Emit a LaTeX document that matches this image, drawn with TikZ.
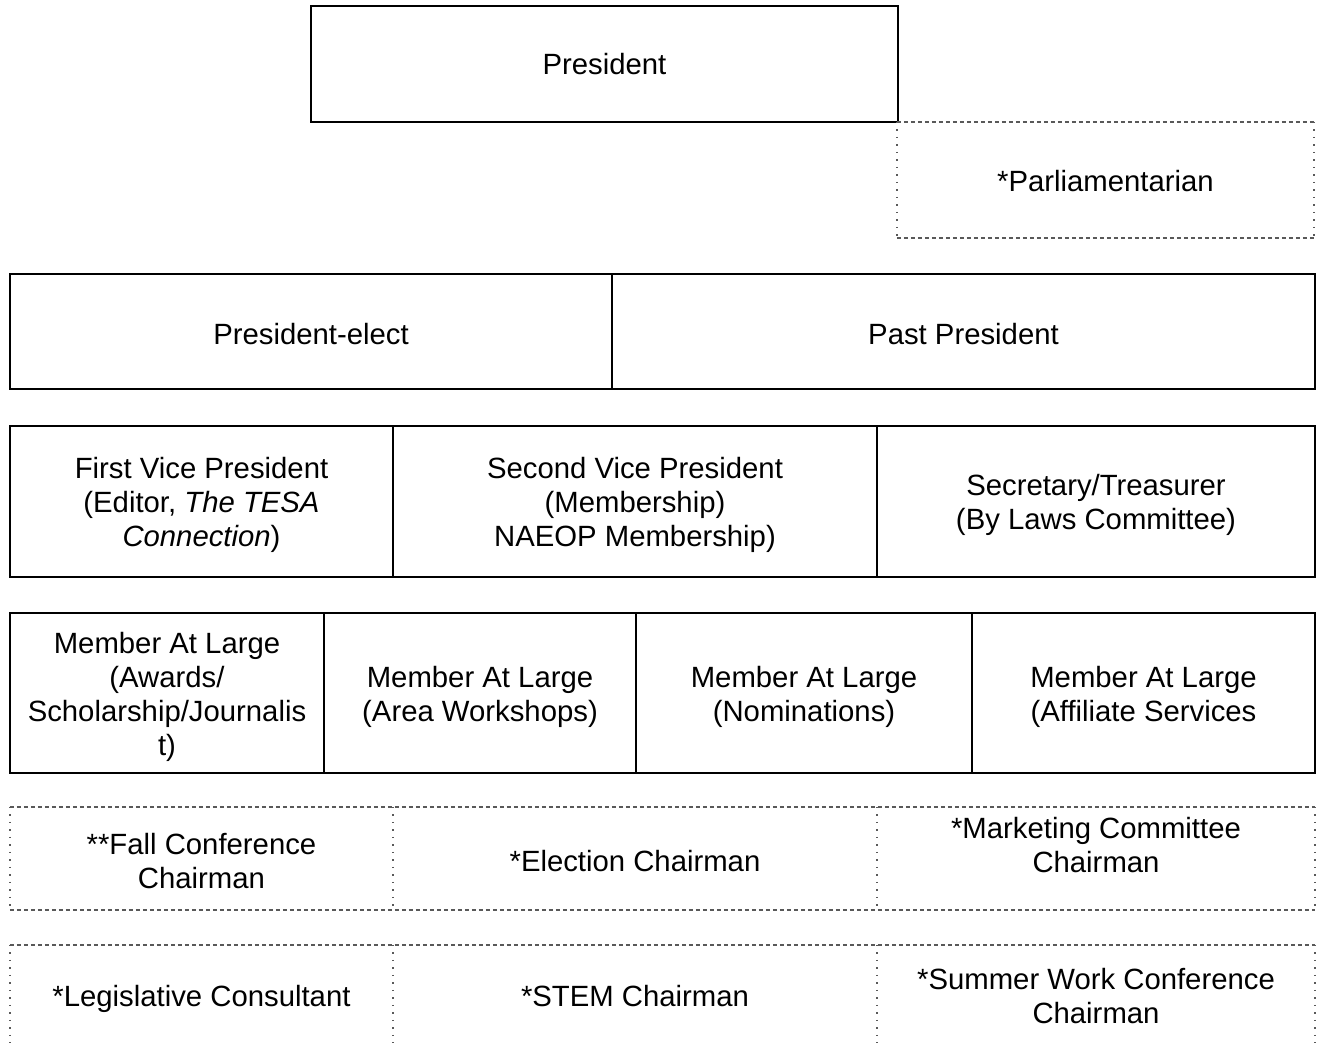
\documentclass[tikz,border=0pt]{standalone}
\usepackage{fontspec}
\setmainfont{Liberation Sans}
\newcommand\mystrut{\rule[-6.2pt]{0pt}{27.6pt}}
\begin{document}
\begin{tikzpicture}[x=1pt,y=-1pt,
  txt/.style={font=\fontsize{29.3}{34}\selectfont, align=center, inner sep=0pt},
  solidcell/.style={draw=black, line width=2pt, inner sep=0pt},
  softcell/.style={inner sep=0pt},
  hdash/.style={draw=black!65, line width=1.5pt, dash pattern=on 4pt off 3pt},
  vdot/.style={draw=black!65, line width=1.5pt, dash pattern=on 1.5pt off 6pt}]
\useasboundingbox (0,0) rectangle (1317,1042);
\clip (0,0) rectangle (1317,1042);
% top
\node[solidcell, minimum width=587, minimum height=116] (pres) at (604.5,64) {};
\node[txt] (pres-t) at (604.5,67) {\mystrut President};
\node[softcell, minimum width=417, minimum height=116] (parl) at (1105.5,180) {};
\node[txt] (parl-t) at (1105.5,184) {\mystrut *Parliamentarian};
\draw[hdash] (parl.north west) -- (parl.north east);
\draw[hdash] (parl.south west) -- (parl.south east);
\draw[vdot] (parl.north west) -- (parl.south west);
\draw[vdot] (parl.north east) -- (parl.south east);
% row 2
\node[solidcell, minimum width=602, minimum height=115] (pe) at (311,331.5) {};
\node[txt] (pe-t) at (311,336.6) {\mystrut President-elect};
\node[solidcell, minimum width=703, minimum height=115] (pp) at (963.5,331.5) {};
\node[txt] (pp-t) at (963.5,336.6) {\mystrut Past President};
% row 3
\node[solidcell, minimum width=383, minimum height=151] (vp1) at (201.5,501.5) {};
\node[txt] (vp1-t) at (201.5,504.5) {\mystrut First Vice President\\(Editor, \textit{The TESA}\\\mystrut\textit{Connection})};
\node[solidcell, minimum width=484, minimum height=151] (vp2) at (635,501.5) {};
\node[txt] (vp2-t) at (635,504.5) {\mystrut Second Vice President\\(Membership)\\\mystrut NAEOP Membership)};
\node[solidcell, minimum width=438, minimum height=151] (sec) at (1096,501.5) {};
\node[txt] (sec-t) at (1096,504.5) {\mystrut Secretary/Treasurer\\\mystrut(By Laws Committee)};
% row 4
\node[solidcell, minimum width=314, minimum height=160] (m1) at (167,693) {};
\node[txt] (m1-t) at (167,697) {\mystrut Member At Large\\(Awards/\\Scholarship/Journalis\\\mystrut t)};
\node[solidcell, minimum width=312, minimum height=160] (m2) at (480,693) {};
\node[txt] (m2-t) at (480,697) {\mystrut Member At Large\\\mystrut(Area Workshops)};
\node[solidcell, minimum width=336, minimum height=160] (m3) at (804,693) {};
\node[txt] (m3-t) at (804,697) {\mystrut Member At Large\\\mystrut(Nominations)};
\node[solidcell, minimum width=343, minimum height=160] (m4) at (1143.5,693) {};
\node[txt] (m4-t) at (1143.5,697) {\mystrut Member At Large\\\mystrut(Affiliate Services};
% row 5
\node[softcell, minimum width=383, minimum height=103] (fall) at (201.5,858.5) {};
\node[txt] (fall-t) at (201.5,864) {\mystrut **Fall Conference\\\mystrut Chairman};
\node[softcell, minimum width=484, minimum height=103] (elec) at (635,858.5) {};
\node[txt] (elec-t) at (635,864) {\mystrut *Election Chairman};
\node[softcell, minimum width=438, minimum height=103] (mark) at (1096,858.5) {};
\node[txt] (mark-t) at (1096,847.5) {\mystrut *Marketing Committee\\\mystrut Chairman};
\draw[hdash] (fall.north west) -- (mark.north east);
\draw[hdash] (fall.south west) -- (mark.south east);
\draw[vdot] (fall.north west) -- (fall.south west);
\draw[vdot] (fall.north east) -- (fall.south east);
\draw[vdot] (elec.north east) -- (elec.south east);
\draw[vdot] (mark.north east) -- (mark.south east);
% row 6
\node[softcell, minimum width=383, minimum height=105] (leg) at (201.5,997.5) {};
\node[txt] (leg-t) at (201.5,998.5) {\mystrut *Legislative Consultant};
\node[softcell, minimum width=484, minimum height=105] (stem) at (635,997.5) {};
\node[txt] (stem-t) at (635,998.5) {\mystrut *STEM Chairman};
\node[softcell, minimum width=438, minimum height=105] (sum) at (1096,997.5) {};
\node[txt] (sum-t) at (1096,998.5) {\mystrut *Summer Work Conference\\\mystrut Chairman};
\draw[hdash] (leg.north west) -- (sum.north east);
\draw[vdot] (leg.north west) -- (leg.south west);
\draw[vdot] (leg.north east) -- (leg.south east);
\draw[vdot] (stem.north east) -- (stem.south east);
\draw[vdot] (sum.north east) -- (sum.south east);
\end{tikzpicture}
\end{document}
